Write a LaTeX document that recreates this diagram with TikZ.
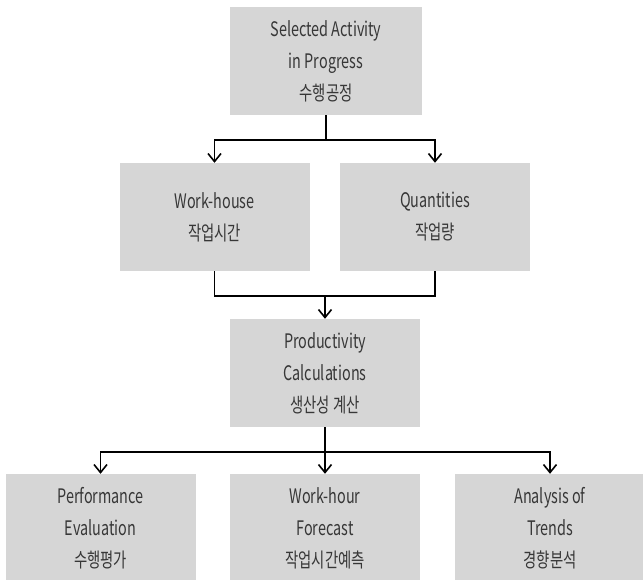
\documentclass[tikz,border=0pt]{standalone}
\usepackage{fontspec}
\setmainfont[FakeStretch=0.72]{Noto Sans CJK KR}
\usepackage{tikz}
\usetikzlibrary{arrows.meta}
\definecolor{boxgray}{RGB}{214,214,214}
\definecolor{txtgray}{RGB}{55,55,55}

\begin{document}
\begin{tikzpicture}[x=1pt,y=-1pt,
  box/.style={fill=boxgray,minimum width=190pt,minimum height=108pt,inner sep=0pt,
    align=center,text=txtgray,font=\fontsize{20}{32}\selectfont},
  link/.style={line width=1.6pt},
  conn/.style={link,-{Straight Barb[length=8pt,width=13pt]}}]
  \clip (0,0) rectangle (643,580);
  \fill[white] (0,0) rectangle (643,580);
  % boxes
  \node[box,minimum width=192pt] (sel) at (326,61) {Selected Activity\\in Progress\\수행공정};
  \node[box] (wh) at (214.5,217) {Work-house\\작업시간};
  \node[box] (qty) at (435,217) {Quantities\\작업량};
  \node[box] (prod) at (325,373) {Productivity\\Calculations\\생산성 계산};
  \node[box] (perf) at (100.5,528) {Performance\\Evaluation\\수행평가};
  \node[box] (fore) at (325,528) {Work-hour\\Forecast\\작업시간예측};
  \node[box] (trend) at (550,528) {Analysis of\\Trends\\경향분석};
  % junctions
  \coordinate (j1) at (326,140);
  \coordinate (j2) at (325,296);
  \coordinate (j3) at (325,452);
  % connectors
  \draw[link] (sel) -- (j1);
  \draw[conn] (j1) -| (wh);
  \draw[conn] (j1) -| (qty);
  \draw[link] (wh) |- (j2) -| (qty);
  \draw[conn] (j2) -- (prod);
  \draw[link] (prod) -- (j3);
  \draw[conn] (j3) -| (perf);
  \draw[conn] (j3) -- (fore);
  \draw[conn] (j3) -| (trend);
\end{tikzpicture}
\end{document}
